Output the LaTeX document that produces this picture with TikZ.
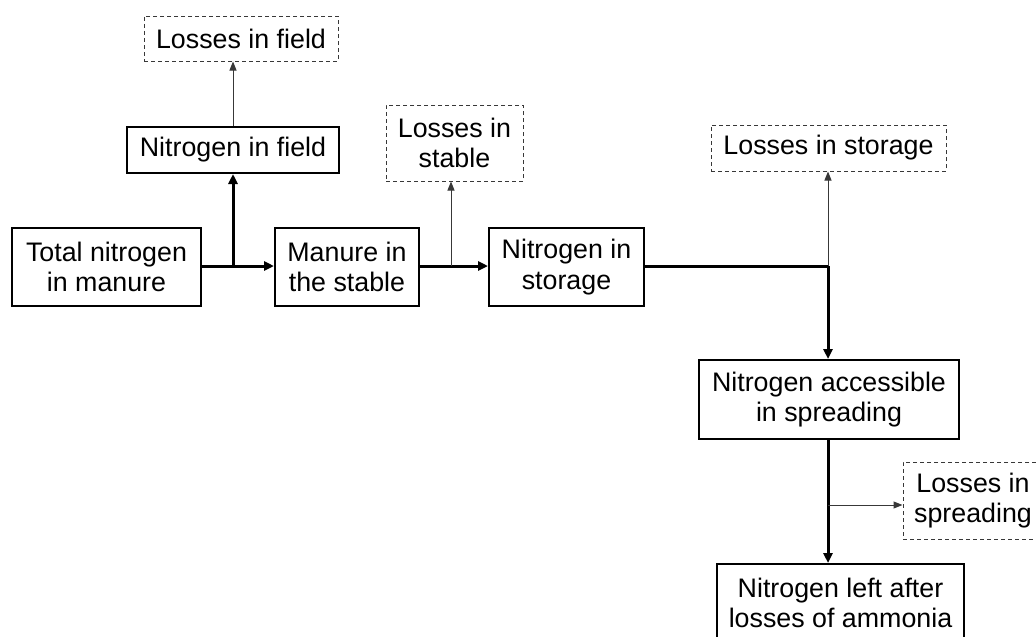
\documentclass[tikz,border=0pt]{standalone}
\usepackage{fontspec}
\setmainfont{Liberation Sans}
\usetikzlibrary{arrows.meta}
\definecolor{thingray}{HTML}{383838}
\tikzset{
  box/.style={draw=black, line width=2pt, rectangle, inner sep=0pt, align=center,
    font=\fontsize{26.8}{30.5}\selectfont},
  lossbox/.style={box, draw=thingray, line width=1pt, dash pattern=on 4pt off 3pt},
  flow/.style={line width=3pt, -{Triangle[length=10pt,width=9pt]}},
  flowline/.style={line width=3pt},
  leak/.style={draw=thingray, line width=1pt, -{Triangle[length=9pt,width=7pt]}},
}
\begin{document}
\begin{tikzpicture}[x=1pt,y=-1pt]
\clip (0,0) rectangle (1036,637);
\fill[white] (0,0) rectangle (1036,637);
\node[lossbox, minimum width=194pt, minimum height=45pt] (lf) at (241,38.5) {Losses in field};
\node[box, minimum width=212pt, minimum height=46pt] (nf) at (233,150) {Nitrogen in field};
\node[box, minimum width=189pt, minimum height=78pt] (tn) at (106.5,267) {Total nitrogen\\in manure};
\node[box, minimum width=144pt, minimum height=78pt] (ms) at (347,267) {Manure in\\the stable};
\node[lossbox, minimum width=137pt, minimum height=76pt] (ls) at (454.5,143) {Losses in\\stable};
\node[box, minimum width=155pt, minimum height=78pt] (ns) at (566.5,267) {Nitrogen in\\storage};
\node[lossbox, minimum width=235pt, minimum height=46pt] (lst) at (828.5,148) {Losses in storage};
\node[box, minimum width=260pt, minimum height=79pt] (na) at (829,399.5) {Nitrogen accessible\\in spreading};
\node[lossbox, minimum width=140pt, minimum height=77pt] (lsp) at (973,500.5) {Losses in\\spreading};
\node[box, minimum width=247pt, minimum height=78pt] (nl) at (840.5,603) {Nitrogen left after\\losses of ammonia};
% junctions
\coordinate (j1) at (233,266);
\coordinate (j2) at (451,266);
\coordinate (j3) at (828,266);
\coordinate (j4) at (828,505);
% main flow
\draw[flow] (tn.east |- j1) -- (ms.west |- j1);
\draw[flow] (j1) -- (j1 |- nf.south);
\draw[flow] (ms.east |- j2) -- (ns.west |- j2);
\draw[flowline] (ns.east |- j3) -- (j3);
\draw[flow] (j3) -- (j3 |- na.north);
\draw[flow] (j3 |- na.south) -- (j3 |- nl.north);
% losses
\draw[leak] (j1 |- nf.north) -- (j1 |- lf.south);
\draw[leak] (j2) -- (j2 |- ls.south);
\draw[leak] (j3) -- (j3 |- lst.south);
\draw[leak] (j4) -- (lsp.west |- j4);
\end{tikzpicture}
\end{document}
